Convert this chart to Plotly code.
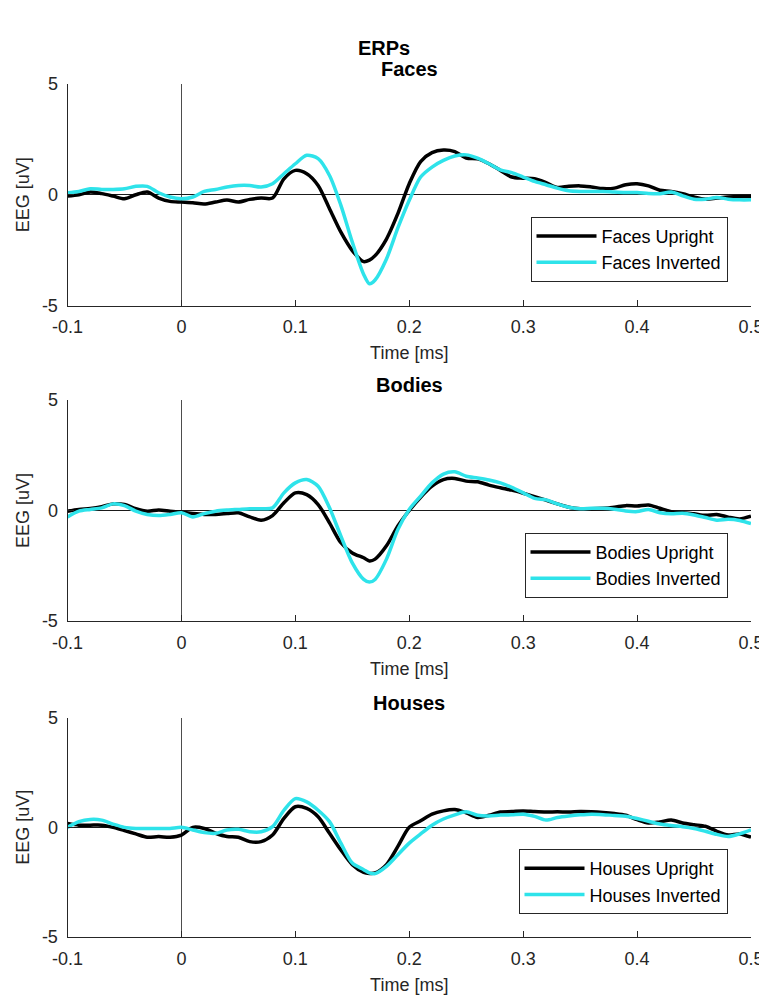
import plotly.graph_objects as go

# ---------------- data ----------------
time_s = [-0.10, -0.09, -0.08, -0.07, -0.06, -0.05, -0.04, -0.03, -0.02, -0.01,
          0.00, 0.01, 0.02, 0.03, 0.04, 0.05, 0.06, 0.07, 0.08, 0.09,
          0.10, 0.11, 0.12, 0.13, 0.14, 0.15, 0.16, 0.165, 0.17, 0.18, 0.19,
          0.20, 0.21, 0.22, 0.23, 0.24, 0.25, 0.26, 0.27, 0.28, 0.29,
          0.30, 0.31, 0.32, 0.33, 0.34, 0.35, 0.36, 0.37, 0.38, 0.39,
          0.40, 0.41, 0.42, 0.43, 0.44, 0.45, 0.46, 0.47, 0.48, 0.49, 0.50]

faces_upright = [-0.06, 0.00, 0.12, 0.05, -0.06, -0.18, 0.00, 0.12, -0.15, -0.30,
                 -0.33, -0.36, -0.42, -0.33, -0.24, -0.33, -0.21, -0.15, -0.15, 0.72,
                 1.10, 0.95, 0.42, -0.63, -1.69, -2.52, -3.02, -2.95, -2.75, -2.00, -0.85,
                 0.50, 1.50, 1.90, 2.02, 1.95, 1.66, 1.62, 1.40, 1.10, 0.80,
                 0.75, 0.72, 0.55, 0.33, 0.38, 0.40, 0.35, 0.28, 0.30, 0.45,
                 0.50, 0.40, 0.20, 0.15, 0.05, -0.10, -0.20, -0.15, -0.10, -0.08, -0.08]
faces_inverted = [0.09, 0.15, 0.27, 0.24, 0.24, 0.27, 0.38, 0.38, 0.09, -0.10,
                  -0.18, -0.10, 0.15, 0.24, 0.35, 0.42, 0.42, 0.35, 0.50, 0.95,
                  1.40, 1.78, 1.63, 0.87, -0.48, -2.14, -3.60, -4.02, -3.85, -2.90, -1.50,
                  -0.25, 0.80, 1.25, 1.55, 1.75, 1.80, 1.65, 1.40, 1.12, 1.00,
                  0.80, 0.60, 0.45, 0.30, 0.18, 0.15, 0.15, 0.15, 0.12, 0.10,
                  0.10, 0.06, 0.05, 0.12, -0.05, -0.20, -0.20, -0.12, -0.20, -0.23, -0.23]

bodies_upright = [-0.03, 0.05, 0.09, 0.17, 0.30, 0.27, 0.08, -0.03, 0.02, -0.03,
                  -0.08, -0.14, -0.18, -0.18, -0.14, -0.10, -0.29, -0.44, -0.23, 0.35,
                  0.80, 0.72, 0.27, -0.56, -1.46, -1.92, -2.14, -2.28, -2.20, -1.60, -0.70,
                  0.00, 0.60, 1.10, 1.40, 1.45, 1.33, 1.30, 1.15, 1.03, 0.92,
                  0.78, 0.63, 0.47, 0.30, 0.15, 0.08, 0.08, 0.10, 0.15, 0.22,
                  0.20, 0.25, 0.10, -0.05, -0.10, -0.15, -0.22, -0.18, -0.30, -0.38, -0.26]
bodies_inverted = [-0.29, -0.03, 0.05, 0.12, 0.30, 0.22, -0.03, -0.18, -0.23, -0.18,
                   -0.10, -0.29, -0.14, -0.03, 0.02, 0.05, 0.08, 0.08, 0.12, 0.80,
                   1.25, 1.40, 1.10, 0.12, -1.16, -2.37, -3.12, -3.24, -3.12, -2.20, -0.86,
                   0.05, 0.65, 1.25, 1.65, 1.75, 1.55, 1.47, 1.38, 1.25, 1.05,
                   0.80, 0.55, 0.48, 0.30, 0.15, 0.08, 0.10, 0.10, 0.06, -0.02,
                   -0.05, 0.05, -0.10, -0.15, -0.12, -0.20, -0.32, -0.44, -0.40, -0.45, -0.59]

houses_upright = [0.18, 0.10, 0.10, 0.10, 0.00, -0.15, -0.30, -0.45, -0.42, -0.45,
                  -0.35, 0.00, -0.05, -0.27, -0.42, -0.45, -0.65, -0.65, -0.35, 0.41,
                  0.94, 0.86, 0.48, -0.27, -1.03, -1.70, -2.05, -2.10, -2.08, -1.70, -0.87,
                  0.00, 0.30, 0.60, 0.75, 0.81, 0.66, 0.45, 0.55, 0.70, 0.72,
                  0.75, 0.72, 0.70, 0.71, 0.70, 0.72, 0.71, 0.68, 0.63, 0.55,
                  0.35, 0.20, 0.25, 0.33, 0.20, 0.12, 0.05, -0.18, -0.35, -0.30, -0.45]
houses_inverted = [0.00, 0.26, 0.36, 0.33, 0.15, 0.00, -0.05, -0.05, -0.05, -0.05,
                   0.00, -0.12, -0.24, -0.27, -0.12, -0.09, -0.20, -0.20, 0.03, 0.78,
                   1.31, 1.16, 0.78, 0.26, -0.72, -1.63, -1.93, -2.08, -2.11, -1.78, -1.25,
                   -0.72, -0.30, 0.10, 0.38, 0.57, 0.71, 0.55, 0.52, 0.56, 0.57,
                   0.60, 0.50, 0.33, 0.45, 0.52, 0.57, 0.60, 0.58, 0.54, 0.51,
                   0.40, 0.28, 0.15, 0.08, 0.03, -0.05, -0.18, -0.32, -0.42, -0.30, -0.12]

panel_titles = ["Faces", "Bodies", "Houses"]
upright_names = ["Faces Upright", "Bodies Upright", "Houses Upright"]
inverted_names = ["Faces Inverted", "Bodies Inverted", "Houses Inverted"]
x_tick_vals = [-0.1, 0.0, 0.1, 0.2, 0.3, 0.4, 0.5]
x_tick_text = ["-0.1", "0", "0.1", "0.2", "0.3", "0.4", "0.5"]
y_tick_vals = [-5, 0, 5]
y_tick_text = ["-5", "0", "5"]

# ---------------- styling ----------------
OFF = 8                     # page body margin in front of the plot div
W, H = 767 - OFF, 1001 - OFF
FONT = "Liberation Sans, Arial, Helvetica, sans-serif"
AX_COL = "#262626"
BLACK = "#000000"
CYAN = "#2ee3ea"


def px(p):
    return (p - OFF) / W


def py(p):
    return 1 - (p - OFF) / H


x_dom = [px(67.5), px(751)]
y_pix = [(84, 305.5), (400, 621), (717.7, 937)]
legend_bottom_pix = [281.7, 597.7, 914]
title_pix = [69.5, 385.5, 702.5]

upright = [faces_upright, bodies_upright, houses_upright]
inverted = [faces_inverted, bodies_inverted, houses_inverted]

fig = go.Figure()
layout = dict(
    width=W, height=H,
    margin=dict(l=0, r=0, t=0, b=0),
    paper_bgcolor="white", plot_bgcolor="white",
    font=dict(family=FONT, size=18, color=AX_COL),
    showlegend=True,
)
annotations = [dict(text="<b>ERPs</b>", x=px(383.5), y=py(48), xref="paper", yref="paper",
                    xanchor="center", yanchor="middle", showarrow=False,
                    font=dict(family=FONT, size=20, color="#000000"))]

for i in range(3):
    sfx = "" if i == 0 else str(i + 1)
    leg = "legend" if i == 0 else f"legend{i + 1}"
    fig.add_trace(go.Scatter(x=time_s, y=upright[i], mode="lines", name=upright_names[i],
                             line=dict(color=BLACK, width=3.5, shape="spline", smoothing=0.8),
                             xaxis="x" + sfx, yaxis="y" + sfx, legend=leg))
    fig.add_trace(go.Scatter(x=time_s, y=inverted[i], mode="lines", name=inverted_names[i],
                             line=dict(color=CYAN, width=3.5, shape="spline", smoothing=0.8),
                             xaxis="x" + sfx, yaxis="y" + sfx, legend=leg))
    top, bot = y_pix[i]
    layout["xaxis" + sfx] = dict(
        domain=x_dom, anchor="y" + sfx, range=[-0.1, 0.5],
        tickmode="array", tickvals=x_tick_vals, ticktext=x_tick_text,
        ticks="inside", ticklen=6, tickcolor=AX_COL, tickwidth=1,
        ticklabelstandoff=5,
        showline=True, linecolor=AX_COL, linewidth=1, mirror=False,
        showgrid=False, zeroline=True, zerolinecolor="#4d4d4d", zerolinewidth=1,
        tickfont=dict(family=FONT, size=18, color=AX_COL),
        title=dict(text="Time [ms]", font=dict(family=FONT, size=18, color=AX_COL), standoff=10),
        automargin=False,
    )
    layout["yaxis" + sfx] = dict(
        domain=[py(bot), py(top)], anchor="x" + sfx, range=[-5, 5],
        tickmode="array", tickvals=y_tick_vals, ticktext=y_tick_text,
        ticks="inside", ticklen=6, tickcolor=AX_COL, tickwidth=1,
        ticklabelstandoff=5,
        showline=True, linecolor=AX_COL, linewidth=1, mirror=False,
        showgrid=False, zeroline=True, zerolinecolor="#1a1a1a", zerolinewidth=1,
        tickfont=dict(family=FONT, size=18, color=AX_COL),
        title=dict(text="EEG [uV]", font=dict(family=FONT, size=18, color=AX_COL), standoff=7),
        automargin=False,
    )
    layout[leg] = dict(
        x=px(727.5), y=py(legend_bottom_pix[i]), xanchor="right", yanchor="bottom",
        xref="paper", yref="paper",
        bgcolor="white", bordercolor=AX_COL, borderwidth=1,
        font=dict(family=FONT, size=18, color="#000000"),
        itemwidth=60, tracegroupgap=0,
    )
    annotations.append(dict(text="<b>" + panel_titles[i] + "</b>",
                            x=(x_dom[0] + x_dom[1]) / 2, y=py(title_pix[i]),
                            xref="paper", yref="paper", xanchor="center", yanchor="middle",
                            showarrow=False, font=dict(family=FONT, size=20, color="#000000")))

layout["annotations"] = annotations
fig.update_layout(**layout)
fig.write_html("out.html")
